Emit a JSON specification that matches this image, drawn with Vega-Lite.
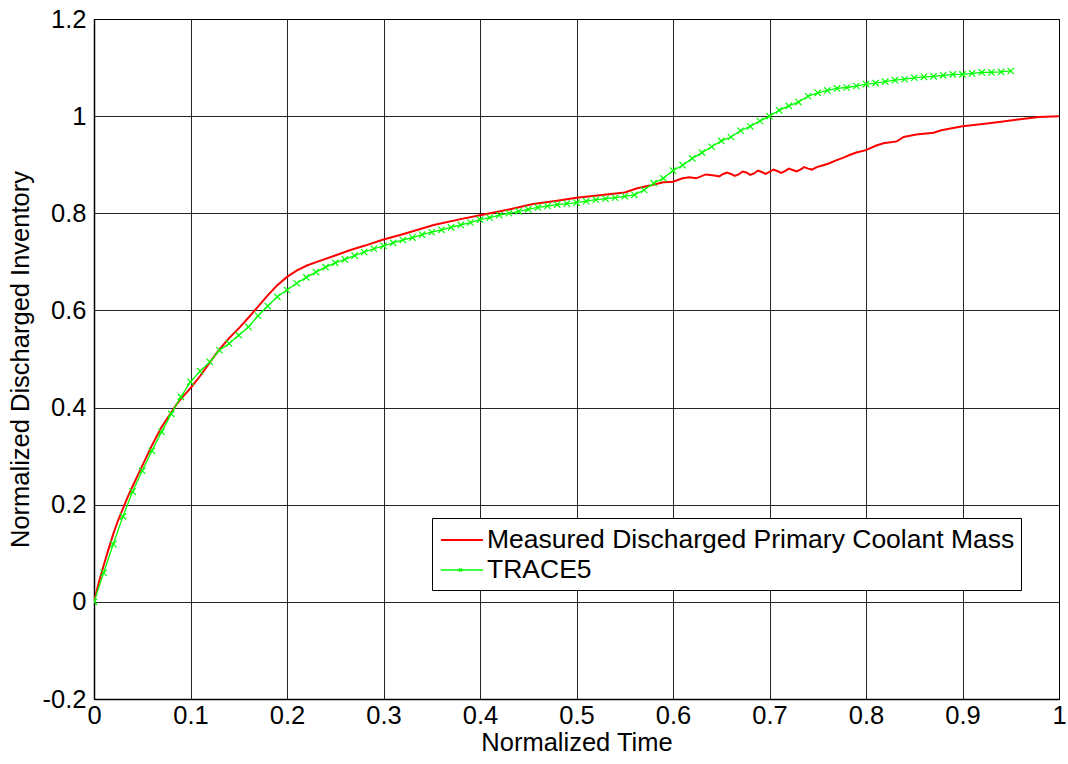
{
  "$schema": "https://vega.github.io/schema/vega-lite/v6.json",
  "width": 965,
  "height": 680,
  "autosize": {"type": "none"},
  "padding": {"left": 94, "top": 19, "right": 9, "bottom": 65},
  "background": "white",
  "config": {
    "font": "Liberation Sans",
    "view": {"stroke": "black", "strokeWidth": 1},
    "axis": {
      "labelFont": "Liberation Sans",
      "titleFont": "Liberation Sans",
      "labelFontSize": 25.5,
      "titleFontSize": 25.5,
      "titleFontWeight": "normal",
      "labelColor": "black",
      "titleColor": "black",
      "domainColor": "black",
      "domainWidth": 1.5,
      "gridColor": "black",
      "gridOpacity": 0.85,
      "gridWidth": 1,
      "ticks": false
    }
  },
  "datasets": {
    "curves": [
      {"t": 0.000, "v": 0.000, "series": "Measured Discharged Primary Coolant Mass"},
      {"t": 0.005, "v": 0.040, "series": "Measured Discharged Primary Coolant Mass"},
      {"t": 0.010, "v": 0.075, "series": "Measured Discharged Primary Coolant Mass"},
      {"t": 0.015, "v": 0.108, "series": "Measured Discharged Primary Coolant Mass"},
      {"t": 0.020, "v": 0.140, "series": "Measured Discharged Primary Coolant Mass"},
      {"t": 0.025, "v": 0.168, "series": "Measured Discharged Primary Coolant Mass"},
      {"t": 0.030, "v": 0.192, "series": "Measured Discharged Primary Coolant Mass"},
      {"t": 0.035, "v": 0.216, "series": "Measured Discharged Primary Coolant Mass"},
      {"t": 0.040, "v": 0.238, "series": "Measured Discharged Primary Coolant Mass"},
      {"t": 0.050, "v": 0.280, "series": "Measured Discharged Primary Coolant Mass"},
      {"t": 0.060, "v": 0.322, "series": "Measured Discharged Primary Coolant Mass"},
      {"t": 0.070, "v": 0.360, "series": "Measured Discharged Primary Coolant Mass"},
      {"t": 0.080, "v": 0.390, "series": "Measured Discharged Primary Coolant Mass"},
      {"t": 0.085, "v": 0.405, "series": "Measured Discharged Primary Coolant Mass"},
      {"t": 0.090, "v": 0.418, "series": "Measured Discharged Primary Coolant Mass"},
      {"t": 0.100, "v": 0.440, "series": "Measured Discharged Primary Coolant Mass"},
      {"t": 0.110, "v": 0.465, "series": "Measured Discharged Primary Coolant Mass"},
      {"t": 0.120, "v": 0.493, "series": "Measured Discharged Primary Coolant Mass"},
      {"t": 0.130, "v": 0.520, "series": "Measured Discharged Primary Coolant Mass"},
      {"t": 0.140, "v": 0.543, "series": "Measured Discharged Primary Coolant Mass"},
      {"t": 0.150, "v": 0.563, "series": "Measured Discharged Primary Coolant Mass"},
      {"t": 0.160, "v": 0.585, "series": "Measured Discharged Primary Coolant Mass"},
      {"t": 0.170, "v": 0.608, "series": "Measured Discharged Primary Coolant Mass"},
      {"t": 0.180, "v": 0.631, "series": "Measured Discharged Primary Coolant Mass"},
      {"t": 0.190, "v": 0.652, "series": "Measured Discharged Primary Coolant Mass"},
      {"t": 0.200, "v": 0.669, "series": "Measured Discharged Primary Coolant Mass"},
      {"t": 0.210, "v": 0.682, "series": "Measured Discharged Primary Coolant Mass"},
      {"t": 0.220, "v": 0.692, "series": "Measured Discharged Primary Coolant Mass"},
      {"t": 0.231, "v": 0.700, "series": "Measured Discharged Primary Coolant Mass"},
      {"t": 0.250, "v": 0.713, "series": "Measured Discharged Primary Coolant Mass"},
      {"t": 0.265, "v": 0.724, "series": "Measured Discharged Primary Coolant Mass"},
      {"t": 0.280, "v": 0.733, "series": "Measured Discharged Primary Coolant Mass"},
      {"t": 0.300, "v": 0.746, "series": "Measured Discharged Primary Coolant Mass"},
      {"t": 0.320, "v": 0.757, "series": "Measured Discharged Primary Coolant Mass"},
      {"t": 0.352, "v": 0.776, "series": "Measured Discharged Primary Coolant Mass"},
      {"t": 0.380, "v": 0.788, "series": "Measured Discharged Primary Coolant Mass"},
      {"t": 0.400, "v": 0.796, "series": "Measured Discharged Primary Coolant Mass"},
      {"t": 0.430, "v": 0.808, "series": "Measured Discharged Primary Coolant Mass"},
      {"t": 0.455, "v": 0.819, "series": "Measured Discharged Primary Coolant Mass"},
      {"t": 0.480, "v": 0.826, "series": "Measured Discharged Primary Coolant Mass"},
      {"t": 0.500, "v": 0.832, "series": "Measured Discharged Primary Coolant Mass"},
      {"t": 0.524, "v": 0.837, "series": "Measured Discharged Primary Coolant Mass"},
      {"t": 0.550, "v": 0.843, "series": "Measured Discharged Primary Coolant Mass"},
      {"t": 0.562, "v": 0.851, "series": "Measured Discharged Primary Coolant Mass"},
      {"t": 0.576, "v": 0.857, "series": "Measured Discharged Primary Coolant Mass"},
      {"t": 0.590, "v": 0.864, "series": "Measured Discharged Primary Coolant Mass"},
      {"t": 0.600, "v": 0.865, "series": "Measured Discharged Primary Coolant Mass"},
      {"t": 0.610, "v": 0.872, "series": "Measured Discharged Primary Coolant Mass"},
      {"t": 0.617, "v": 0.874, "series": "Measured Discharged Primary Coolant Mass"},
      {"t": 0.624, "v": 0.872, "series": "Measured Discharged Primary Coolant Mass"},
      {"t": 0.634, "v": 0.880, "series": "Measured Discharged Primary Coolant Mass"},
      {"t": 0.643, "v": 0.878, "series": "Measured Discharged Primary Coolant Mass"},
      {"t": 0.648, "v": 0.876, "series": "Measured Discharged Primary Coolant Mass"},
      {"t": 0.652, "v": 0.881, "series": "Measured Discharged Primary Coolant Mass"},
      {"t": 0.656, "v": 0.884, "series": "Measured Discharged Primary Coolant Mass"},
      {"t": 0.660, "v": 0.881, "series": "Measured Discharged Primary Coolant Mass"},
      {"t": 0.664, "v": 0.877, "series": "Measured Discharged Primary Coolant Mass"},
      {"t": 0.668, "v": 0.880, "series": "Measured Discharged Primary Coolant Mass"},
      {"t": 0.672, "v": 0.886, "series": "Measured Discharged Primary Coolant Mass"},
      {"t": 0.676, "v": 0.884, "series": "Measured Discharged Primary Coolant Mass"},
      {"t": 0.680, "v": 0.879, "series": "Measured Discharged Primary Coolant Mass"},
      {"t": 0.684, "v": 0.882, "series": "Measured Discharged Primary Coolant Mass"},
      {"t": 0.688, "v": 0.888, "series": "Measured Discharged Primary Coolant Mass"},
      {"t": 0.692, "v": 0.885, "series": "Measured Discharged Primary Coolant Mass"},
      {"t": 0.696, "v": 0.881, "series": "Measured Discharged Primary Coolant Mass"},
      {"t": 0.700, "v": 0.885, "series": "Measured Discharged Primary Coolant Mass"},
      {"t": 0.704, "v": 0.890, "series": "Measured Discharged Primary Coolant Mass"},
      {"t": 0.708, "v": 0.887, "series": "Measured Discharged Primary Coolant Mass"},
      {"t": 0.712, "v": 0.883, "series": "Measured Discharged Primary Coolant Mass"},
      {"t": 0.716, "v": 0.887, "series": "Measured Discharged Primary Coolant Mass"},
      {"t": 0.720, "v": 0.892, "series": "Measured Discharged Primary Coolant Mass"},
      {"t": 0.724, "v": 0.889, "series": "Measured Discharged Primary Coolant Mass"},
      {"t": 0.728, "v": 0.886, "series": "Measured Discharged Primary Coolant Mass"},
      {"t": 0.732, "v": 0.890, "series": "Measured Discharged Primary Coolant Mass"},
      {"t": 0.736, "v": 0.895, "series": "Measured Discharged Primary Coolant Mass"},
      {"t": 0.740, "v": 0.892, "series": "Measured Discharged Primary Coolant Mass"},
      {"t": 0.744, "v": 0.890, "series": "Measured Discharged Primary Coolant Mass"},
      {"t": 0.749, "v": 0.895, "series": "Measured Discharged Primary Coolant Mass"},
      {"t": 0.754, "v": 0.898, "series": "Measured Discharged Primary Coolant Mass"},
      {"t": 0.762, "v": 0.903, "series": "Measured Discharged Primary Coolant Mass"},
      {"t": 0.769, "v": 0.909, "series": "Measured Discharged Primary Coolant Mass"},
      {"t": 0.776, "v": 0.914, "series": "Measured Discharged Primary Coolant Mass"},
      {"t": 0.783, "v": 0.920, "series": "Measured Discharged Primary Coolant Mass"},
      {"t": 0.790, "v": 0.925, "series": "Measured Discharged Primary Coolant Mass"},
      {"t": 0.800, "v": 0.930, "series": "Measured Discharged Primary Coolant Mass"},
      {"t": 0.810, "v": 0.939, "series": "Measured Discharged Primary Coolant Mass"},
      {"t": 0.818, "v": 0.944, "series": "Measured Discharged Primary Coolant Mass"},
      {"t": 0.832, "v": 0.948, "series": "Measured Discharged Primary Coolant Mass"},
      {"t": 0.839, "v": 0.957, "series": "Measured Discharged Primary Coolant Mass"},
      {"t": 0.852, "v": 0.962, "series": "Measured Discharged Primary Coolant Mass"},
      {"t": 0.870, "v": 0.966, "series": "Measured Discharged Primary Coolant Mass"},
      {"t": 0.878, "v": 0.971, "series": "Measured Discharged Primary Coolant Mass"},
      {"t": 0.900, "v": 0.979, "series": "Measured Discharged Primary Coolant Mass"},
      {"t": 0.921, "v": 0.984, "series": "Measured Discharged Primary Coolant Mass"},
      {"t": 0.938, "v": 0.988, "series": "Measured Discharged Primary Coolant Mass"},
      {"t": 0.962, "v": 0.994, "series": "Measured Discharged Primary Coolant Mass"},
      {"t": 0.979, "v": 0.998, "series": "Measured Discharged Primary Coolant Mass"},
      {"t": 1.000, "v": 1.000, "series": "Measured Discharged Primary Coolant Mass"},
      {"t": 0.00, "v": 0.000, "series": "TRACE5"},
      {"t": 0.01, "v": 0.060, "series": "TRACE5"},
      {"t": 0.02, "v": 0.119, "series": "TRACE5"},
      {"t": 0.03, "v": 0.176, "series": "TRACE5"},
      {"t": 0.04, "v": 0.227, "series": "TRACE5"},
      {"t": 0.05, "v": 0.270, "series": "TRACE5"},
      {"t": 0.06, "v": 0.311, "series": "TRACE5"},
      {"t": 0.07, "v": 0.350, "series": "TRACE5"},
      {"t": 0.08, "v": 0.387, "series": "TRACE5"},
      {"t": 0.09, "v": 0.422, "series": "TRACE5"},
      {"t": 0.10, "v": 0.453, "series": "TRACE5"},
      {"t": 0.11, "v": 0.475, "series": "TRACE5"},
      {"t": 0.12, "v": 0.494, "series": "TRACE5"},
      {"t": 0.13, "v": 0.518, "series": "TRACE5"},
      {"t": 0.14, "v": 0.532, "series": "TRACE5"},
      {"t": 0.15, "v": 0.549, "series": "TRACE5"},
      {"t": 0.16, "v": 0.566, "series": "TRACE5"},
      {"t": 0.17, "v": 0.589, "series": "TRACE5"},
      {"t": 0.18, "v": 0.609, "series": "TRACE5"},
      {"t": 0.19, "v": 0.628, "series": "TRACE5"},
      {"t": 0.20, "v": 0.642, "series": "TRACE5"},
      {"t": 0.21, "v": 0.656, "series": "TRACE5"},
      {"t": 0.22, "v": 0.668, "series": "TRACE5"},
      {"t": 0.23, "v": 0.679, "series": "TRACE5"},
      {"t": 0.24, "v": 0.689, "series": "TRACE5"},
      {"t": 0.25, "v": 0.698, "series": "TRACE5"},
      {"t": 0.26, "v": 0.705, "series": "TRACE5"},
      {"t": 0.27, "v": 0.713, "series": "TRACE5"},
      {"t": 0.28, "v": 0.720, "series": "TRACE5"},
      {"t": 0.29, "v": 0.727, "series": "TRACE5"},
      {"t": 0.30, "v": 0.733, "series": "TRACE5"},
      {"t": 0.31, "v": 0.739, "series": "TRACE5"},
      {"t": 0.32, "v": 0.745, "series": "TRACE5"},
      {"t": 0.33, "v": 0.750, "series": "TRACE5"},
      {"t": 0.34, "v": 0.756, "series": "TRACE5"},
      {"t": 0.35, "v": 0.761, "series": "TRACE5"},
      {"t": 0.36, "v": 0.766, "series": "TRACE5"},
      {"t": 0.37, "v": 0.771, "series": "TRACE5"},
      {"t": 0.38, "v": 0.776, "series": "TRACE5"},
      {"t": 0.39, "v": 0.781, "series": "TRACE5"},
      {"t": 0.40, "v": 0.787, "series": "TRACE5"},
      {"t": 0.41, "v": 0.791, "series": "TRACE5"},
      {"t": 0.42, "v": 0.796, "series": "TRACE5"},
      {"t": 0.43, "v": 0.800, "series": "TRACE5"},
      {"t": 0.44, "v": 0.804, "series": "TRACE5"},
      {"t": 0.45, "v": 0.808, "series": "TRACE5"},
      {"t": 0.46, "v": 0.812, "series": "TRACE5"},
      {"t": 0.47, "v": 0.815, "series": "TRACE5"},
      {"t": 0.48, "v": 0.818, "series": "TRACE5"},
      {"t": 0.49, "v": 0.820, "series": "TRACE5"},
      {"t": 0.50, "v": 0.822, "series": "TRACE5"},
      {"t": 0.51, "v": 0.825, "series": "TRACE5"},
      {"t": 0.52, "v": 0.828, "series": "TRACE5"},
      {"t": 0.53, "v": 0.830, "series": "TRACE5"},
      {"t": 0.54, "v": 0.832, "series": "TRACE5"},
      {"t": 0.55, "v": 0.835, "series": "TRACE5"},
      {"t": 0.56, "v": 0.838, "series": "TRACE5"},
      {"t": 0.57, "v": 0.848, "series": "TRACE5"},
      {"t": 0.58, "v": 0.862, "series": "TRACE5"},
      {"t": 0.59, "v": 0.872, "series": "TRACE5"},
      {"t": 0.60, "v": 0.888, "series": "TRACE5"},
      {"t": 0.61, "v": 0.899, "series": "TRACE5"},
      {"t": 0.62, "v": 0.913, "series": "TRACE5"},
      {"t": 0.63, "v": 0.925, "series": "TRACE5"},
      {"t": 0.64, "v": 0.937, "series": "TRACE5"},
      {"t": 0.65, "v": 0.949, "series": "TRACE5"},
      {"t": 0.66, "v": 0.957, "series": "TRACE5"},
      {"t": 0.67, "v": 0.970, "series": "TRACE5"},
      {"t": 0.68, "v": 0.979, "series": "TRACE5"},
      {"t": 0.69, "v": 0.990, "series": "TRACE5"},
      {"t": 0.70, "v": 1.000, "series": "TRACE5"},
      {"t": 0.71, "v": 1.012, "series": "TRACE5"},
      {"t": 0.72, "v": 1.021, "series": "TRACE5"},
      {"t": 0.73, "v": 1.029, "series": "TRACE5"},
      {"t": 0.74, "v": 1.041, "series": "TRACE5"},
      {"t": 0.75, "v": 1.048, "series": "TRACE5"},
      {"t": 0.76, "v": 1.053, "series": "TRACE5"},
      {"t": 0.77, "v": 1.057, "series": "TRACE5"},
      {"t": 0.78, "v": 1.059, "series": "TRACE5"},
      {"t": 0.79, "v": 1.062, "series": "TRACE5"},
      {"t": 0.80, "v": 1.066, "series": "TRACE5"},
      {"t": 0.81, "v": 1.068, "series": "TRACE5"},
      {"t": 0.82, "v": 1.071, "series": "TRACE5"},
      {"t": 0.83, "v": 1.074, "series": "TRACE5"},
      {"t": 0.84, "v": 1.076, "series": "TRACE5"},
      {"t": 0.85, "v": 1.079, "series": "TRACE5"},
      {"t": 0.86, "v": 1.081, "series": "TRACE5"},
      {"t": 0.87, "v": 1.082, "series": "TRACE5"},
      {"t": 0.88, "v": 1.084, "series": "TRACE5"},
      {"t": 0.89, "v": 1.086, "series": "TRACE5"},
      {"t": 0.90, "v": 1.086, "series": "TRACE5"},
      {"t": 0.91, "v": 1.088, "series": "TRACE5"},
      {"t": 0.92, "v": 1.090, "series": "TRACE5"},
      {"t": 0.93, "v": 1.090, "series": "TRACE5"},
      {"t": 0.94, "v": 1.091, "series": "TRACE5"},
      {"t": 0.95, "v": 1.093, "series": "TRACE5"}
    ]
  },
  "data": {"name": "curves"},
  "encoding": {
    "x": {
      "field": "t",
      "type": "quantitative",
      "scale": {"domain": [0, 1], "nice": false, "zero": false},
      "axis": {
        "title": "Normalized Time",
        "values": [0, 0.1, 0.2, 0.3, 0.4, 0.5, 0.6, 0.7, 0.8, 0.9, 1],
        "labelExpr": "'' + round(datum.value*10)/10",
        "labelPadding": 4,
        "titlePadding": 2,
        "labelFlush": false,
        "labelOverlap": false
      }
    },
    "y": {
      "field": "v",
      "type": "quantitative",
      "scale": {"domain": [-0.2, 1.2], "nice": false, "zero": false},
      "axis": {
        "title": "Normalized Discharged Inventory",
        "values": [-0.2, 0, 0.2, 0.4, 0.6, 0.8, 1, 1.2],
        "labelExpr": "'' + round(datum.value*10)/10",
        "labelPadding": 8,
        "titlePadding": 9,
        "labelFlush": false,
        "labelOverlap": false
      }
    }
  },
  "layer": [
    {
      "mark": {"type": "line", "clip": true},
      "encoding": {
        "color": {
          "field": "series",
          "type": "nominal",
          "scale": {
            "domain": ["Measured Discharged Primary Coolant Mass", "TRACE5"],
            "range": ["#ff0000", "#00ff00"]
          },
          "legend": {
            "title": null,
            "orient": "none",
            "legendX": 338,
            "legendY": 499,
            "fillColor": "white",
            "strokeColor": "black",
            "padding": 6,
            "rowPadding": 0,
            "symbolSize": 900,
            "symbolStrokeWidth": 2,
            "symbolType": "M-0.87,0L1.93,0",
            "labelFont": "Liberation Sans",
            "labelFontSize": 26.5,
            "labelColor": "black",
            "labelOffset": 17,
            "labelLimit": 700,
            "encode": {
              "symbols": {
                "update": {
                  "shape": {"signal": "datum.label === 'TRACE5' ? 'M-0.87,0L1.93,0M0.33,-0.1L0.53,0.1M0.33,0.1L0.53,-0.1' : 'M-0.87,0L1.93,0'"},
                  "strokeWidth": {"signal": "datum.label === 'TRACE5' ? 1.3 : 2"}
                }
              }
            }
          }
        },
        "strokeWidth": {
          "field": "series",
          "type": "nominal",
          "scale": {
            "domain": ["Measured Discharged Primary Coolant Mass", "TRACE5"],
            "range": [2, 1.3]
          },
          "legend": null
        }
      }
    },
    {
      "transform": [{"filter": "datum.series === 'TRACE5'"}],
      "mark": {
        "type": "point",
        "shape": "M-1,-1L1,1M-1,1L1,-1",
        "filled": false,
        "color": "#00ff00",
        "strokeWidth": 1.2,
        "size": 40,
        "opacity": 1,
        "clip": true
      }
    }
  ]
}
